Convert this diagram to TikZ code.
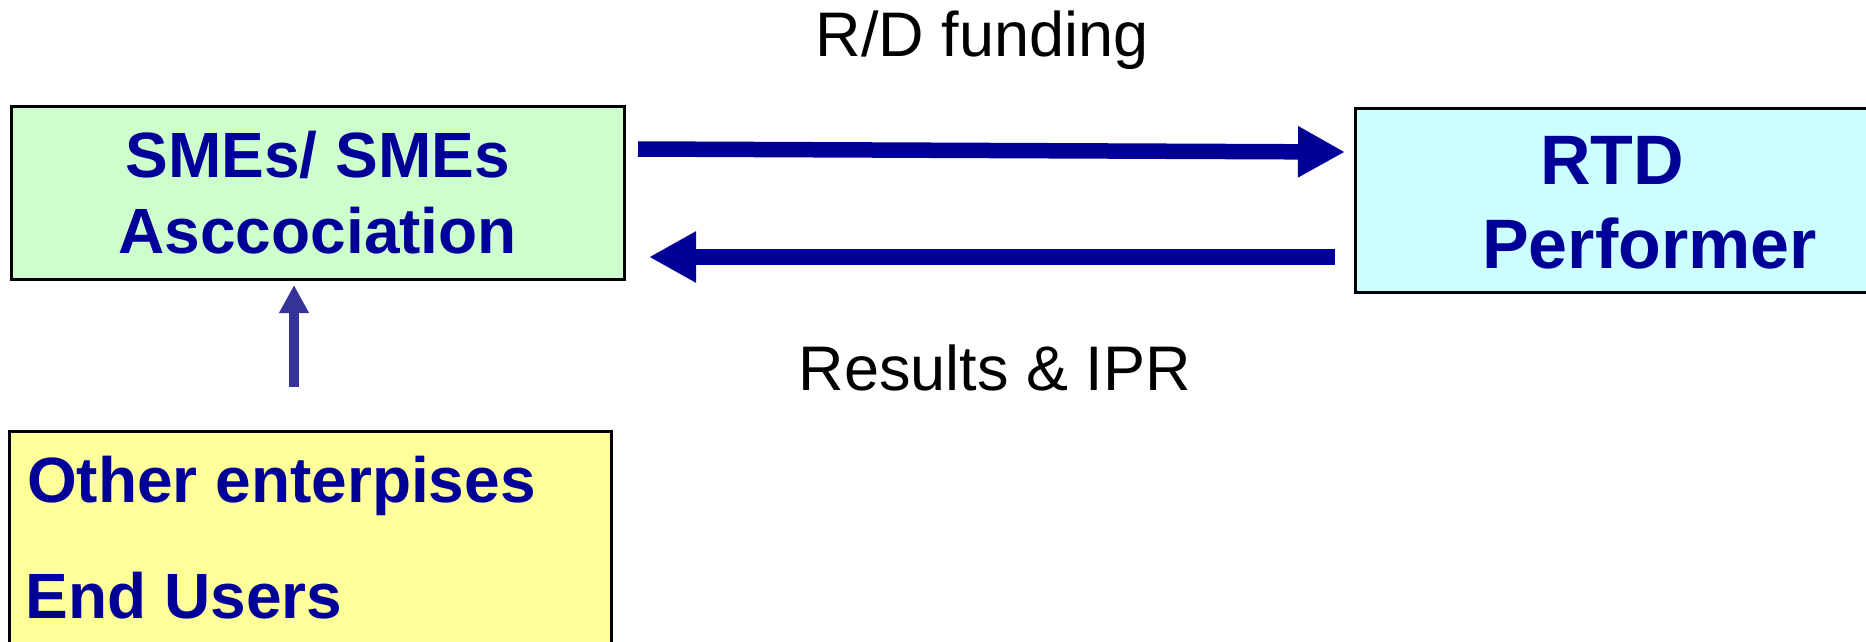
\documentclass[tikz,border=0pt]{standalone}
\usepackage{fontspec}
\setmainfont{Liberation Sans}
\usetikzlibrary{arrows.meta}
\definecolor{boxtext}{HTML}{000099}
\definecolor{arrowblue}{HTML}{000099}
\definecolor{upblue}{HTML}{333399}
\definecolor{smegreen}{HTML}{CCFFCC}
\definecolor{rtdcyan}{HTML}{CCFFFF}
\definecolor{useryellow}{HTML}{FFFF99}
\begin{document}
\begin{tikzpicture}[x=1pt,y=-1pt,
  box/.style={draw=black, line width=3pt, inner sep=0pt, outer sep=0pt},
  boxfont/.style={text=boxtext, font=\fontsize{64}{76}\selectfont\bfseries},
  boxlabel/.style={boxfont, inner sep=0pt},
  biglabel/.style={text=boxtext, font=\fontsize{70}{84}\selectfont\bfseries, inner sep=0pt},
  flowlabel/.style={text=black, font=\fontsize{63}{75}\selectfont, inner sep=0pt},
  bigarrow/.style={draw=arrowblue, line width=15.5pt, -{Triangle[length=47pt,width=48pt]}},
  smallarrow/.style={draw=upblue, line width=9.5pt, -{Triangle[length=28pt,width=28pt]}}
]
\useasboundingbox (0,0) rectangle (1866,641);

% boxes
\node[box, fill=smegreen, minimum width=613.5pt, minimum height=173pt,
      boxfont, align=center] (sme) at (317.75,193) {SMEs/ SMEs\\Asccociation};

\node[box, fill=rtdcyan, minimum width=524.5pt, minimum height=184pt] (rtd) at (1617.75,200.5) {};
\node[biglabel, anchor=base west] (rtdA) at (1540,184) {RTD};
\node[biglabel, anchor=base west] (rtdB) at (1482,268) {Performer};

\node[box, fill=useryellow, minimum width=602pt, minimum height=228.5pt] (users) at (310.5,545.75) {};
\node[boxlabel, anchor=base west] (usersA) at (27,502) {Other enterpises};
\node[boxlabel, anchor=base west] (usersB) at (25.5,618) {End Users};

% flow labels
\node[flowlabel, anchor=base] (fund) at (982,56) {R/D funding};
\node[flowlabel, anchor=base] (res) at (995,390) {Results \& IPR};

% arrows
\draw[bigarrow] ([xshift=13.5pt, yshift=44pt]sme.east) -- ([xshift=-10.5pt, yshift=48.5pt]rtd.west);
\draw[bigarrow] ([xshift=-20.5pt, yshift=-56.5pt]rtd.west) -- ([xshift=24.5pt, yshift=-64pt]sme.east);
\draw[smallarrow] ([xshift=-16.5pt, yshift=44.5pt]users.north) -- ([xshift=-23.75pt, yshift=-5.5pt]sme.south);
\end{tikzpicture}
\end{document}
